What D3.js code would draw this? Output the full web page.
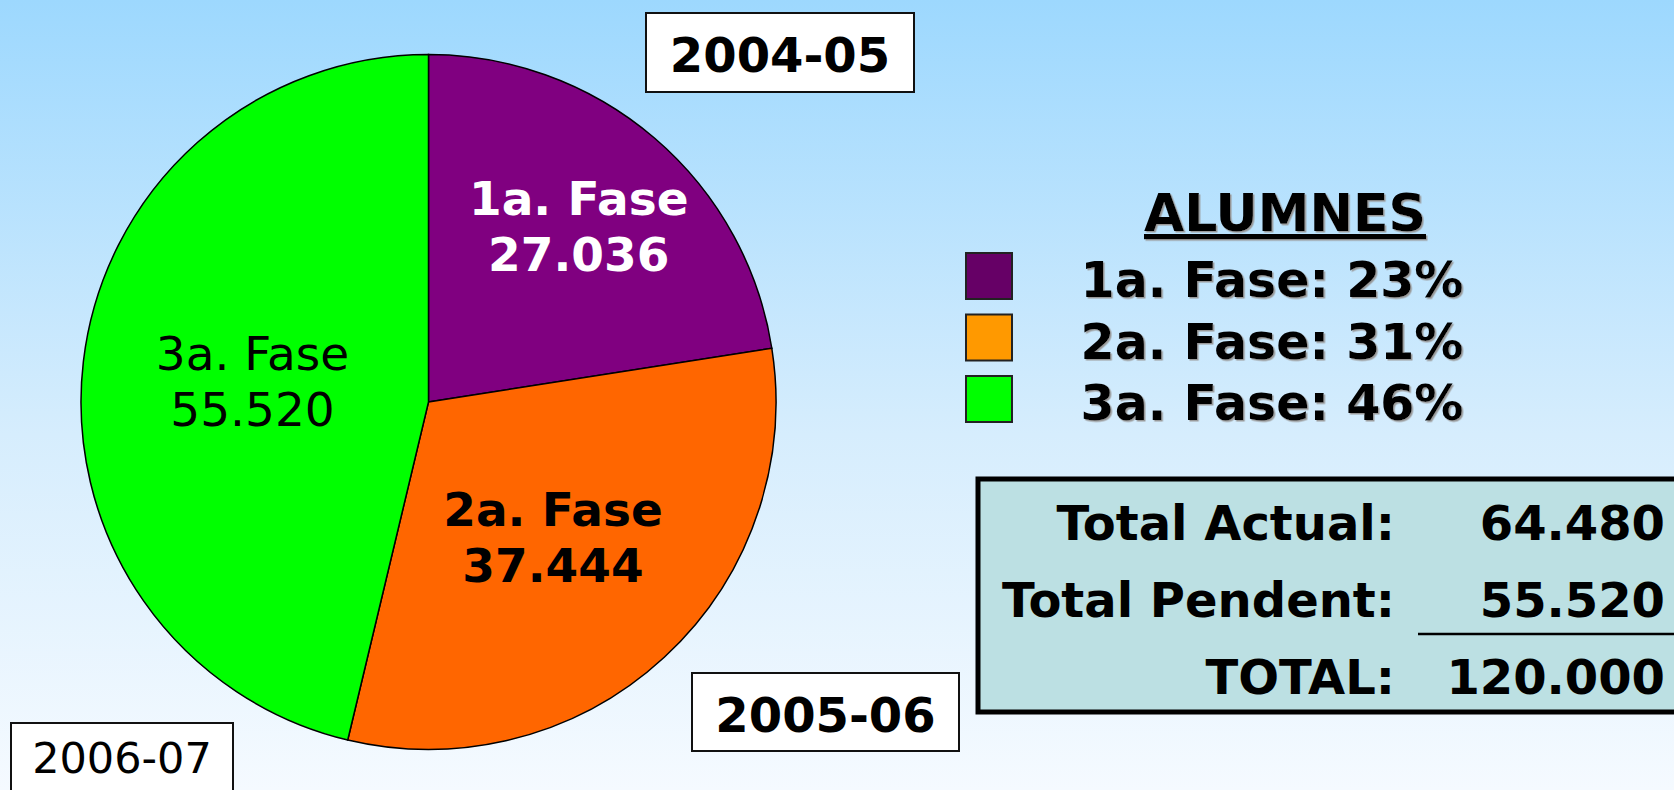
<!DOCTYPE html>
<html>
<head>
<meta charset="utf-8">
<script src="https://cdn.jsdelivr.net/npm/d3@7"></script>
<style>
  html, body { margin: 0; padding: 0; overflow: hidden; }
  svg { display: block; font-family: "DejaVu Sans", Verdana, sans-serif; }
</style>
</head>
<body>
<svg id="chart" width="1674" height="790"></svg>
<script>
const phases = ['1a. Fase', '2a. Fase', '3a. Fase'];
const alumnes = [27036, 37444, 55520];
const slice_colors = ['#800080', '#FF6600', '#00FF00'];
const legend_colors = ['#660066', '#FF9900', '#00FF00'];
const years = ['2004-05', '2005-06', '2006-07'];
const legend_title = 'ALUMNES';
const total_labels = ['Total Actual:', 'Total Pendent:', 'TOTAL:'];

const W = 1674, H = 790;
const svg = d3.select('#chart');

// catalan style numbers: 27.036
const fmt = d3.formatLocale({ decimal: ',', thousands: '.', grouping: [3], currency: ['', ''] }).format(',d');

// background
const defs = svg.append('defs');
const bg = defs.append('linearGradient').attr('id', 'bg').attr('x1', 0).attr('y1', 0).attr('x2', 0).attr('y2', 1);
bg.append('stop').attr('offset', '0%').attr('stop-color', '#9dd8fe');
bg.append('stop').attr('offset', '55%').attr('stop-color', '#d6edfd');
bg.append('stop').attr('offset', '100%').attr('stop-color', '#f5faff');
const shadow = defs.append('filter').attr('id', 'shadow');
shadow.append('feDropShadow').attr('dx', 1.5).attr('dy', 1.5).attr('stdDeviation', 0.4).attr('flood-color', '#999');
svg.append('rect').attr('width', W).attr('height', H).attr('fill', 'url(#bg)');

// pie
const cx = 428.5, cy = 402, r = 347.5;
const total = d3.sum(alumnes);
const pie = d3.pie().sort(null).value(d => d)(alumnes);
const arc = d3.arc().innerRadius(0).outerRadius(r);
const g = svg.append('g').attr('transform', `translate(${cx},${cy})`);

g.selectAll('path.slice')
  .data(pie)
  .enter()
  .append('path')
  .attr('class', 'slice')
  .attr('d', arc)
  .attr('fill', (d, i) => slice_colors[i])
  .attr('stroke', '#000')
  .attr('stroke-width', 1.5);

// labels sit at different depths in each slice
const label_r = [0.665, 0.528, 0.51];
const label_style = [
  { fill: '#fff', weight: 'bold' },
  { fill: '#000', weight: 'bold' },
  { fill: '#000', weight: 'normal' }
];
pie.forEach((d, i) => {
  const c = d3.arc().innerRadius(label_r[i] * r).outerRadius(label_r[i] * r).centroid(d);
  const t = g.append('text')
    .attr('text-anchor', 'middle')
    .attr('font-size', 47)
    .attr('font-weight', label_style[i].weight)
    .attr('fill', label_style[i].fill);
  t.append('tspan').attr('x', c[0]).attr('y', c[1] - 11).text(phases[i]);
  t.append('tspan').attr('x', c[0]).attr('y', c[1] + 45).text(fmt(alumnes[i]));
});

// year boxes
const year_boxes = [
  { x: 646, y: 13, w: 268, h: 79, size: 48, weight: 'bold', base: 59 },
  { x: 692, y: 673, w: 267, h: 78, size: 48, weight: 'bold', base: 59 },
  { x: 11, y: 723, w: 222, h: 80, size: 43, weight: 'normal', base: 50 }
];
years.forEach((y, i) => {
  const b = year_boxes[i];
  svg.append('rect')
    .attr('x', b.x).attr('y', b.y).attr('width', b.w).attr('height', b.h)
    .attr('fill', '#fff').attr('stroke', '#111').attr('stroke-width', 2);
  svg.append('text')
    .attr('x', b.x + b.w / 2).attr('y', b.y + b.base)
    .attr('text-anchor', 'middle')
    .attr('font-size', b.size)
    .attr('font-weight', b.weight)
    .text(y);
});

// legend
svg.append('text')
  .attr('x', 1285).attr('y', 231)
  .attr('text-anchor', 'middle')
  .attr('font-size', 52)
  .attr('font-weight', 'bold')
  .attr('text-decoration', 'underline')
  .attr('filter', 'url(#shadow)')
  .text(legend_title);

const ly = d3.scalePoint().domain(phases).range([253, 376]);
phases.forEach((p, i) => {
  svg.append('rect')
    .attr('x', 966).attr('y', ly(p))
    .attr('width', 46).attr('height', 46)
    .attr('fill', legend_colors[i])
    .attr('stroke', '#222').attr('stroke-width', 2);
  svg.append('text')
    .attr('x', 1272).attr('y', ly(p) + 44)
    .attr('text-anchor', 'middle')
    .attr('font-size', 49)
    .attr('font-weight', 'bold')
    .attr('filter', 'url(#shadow)')
    .text(`${p}: ${Math.round(alumnes[i] / total * 100)}%`);
});

// totals box
const actual = alumnes[0] + alumnes[1];
const pending = alumnes[2];
const totals = [actual, pending, total];
svg.append('rect')
  .attr('x', 978).attr('y', 479).attr('width', 720).attr('height', 233)
  .attr('fill', '#bce0e3').attr('stroke', '#000').attr('stroke-width', 5);
const ty = d3.scalePoint().domain(total_labels).range([540, 694]);
total_labels.forEach((l, i) => {
  svg.append('text')
    .attr('x', 1395).attr('y', ty(l))
    .attr('text-anchor', 'end')
    .attr('font-size', 48).attr('font-weight', 'bold')
    .text(l);
  svg.append('text')
    .attr('x', 1665).attr('y', ty(l))
    .attr('text-anchor', 'end')
    .attr('font-size', 48).attr('font-weight', 'bold')
    .text(fmt(totals[i]));
});
svg.append('line')
  .attr('x1', 1418).attr('x2', 1674).attr('y1', 634).attr('y2', 634)
  .attr('stroke', '#000').attr('stroke-width', 2.5);
</script>
</body>
</html>
